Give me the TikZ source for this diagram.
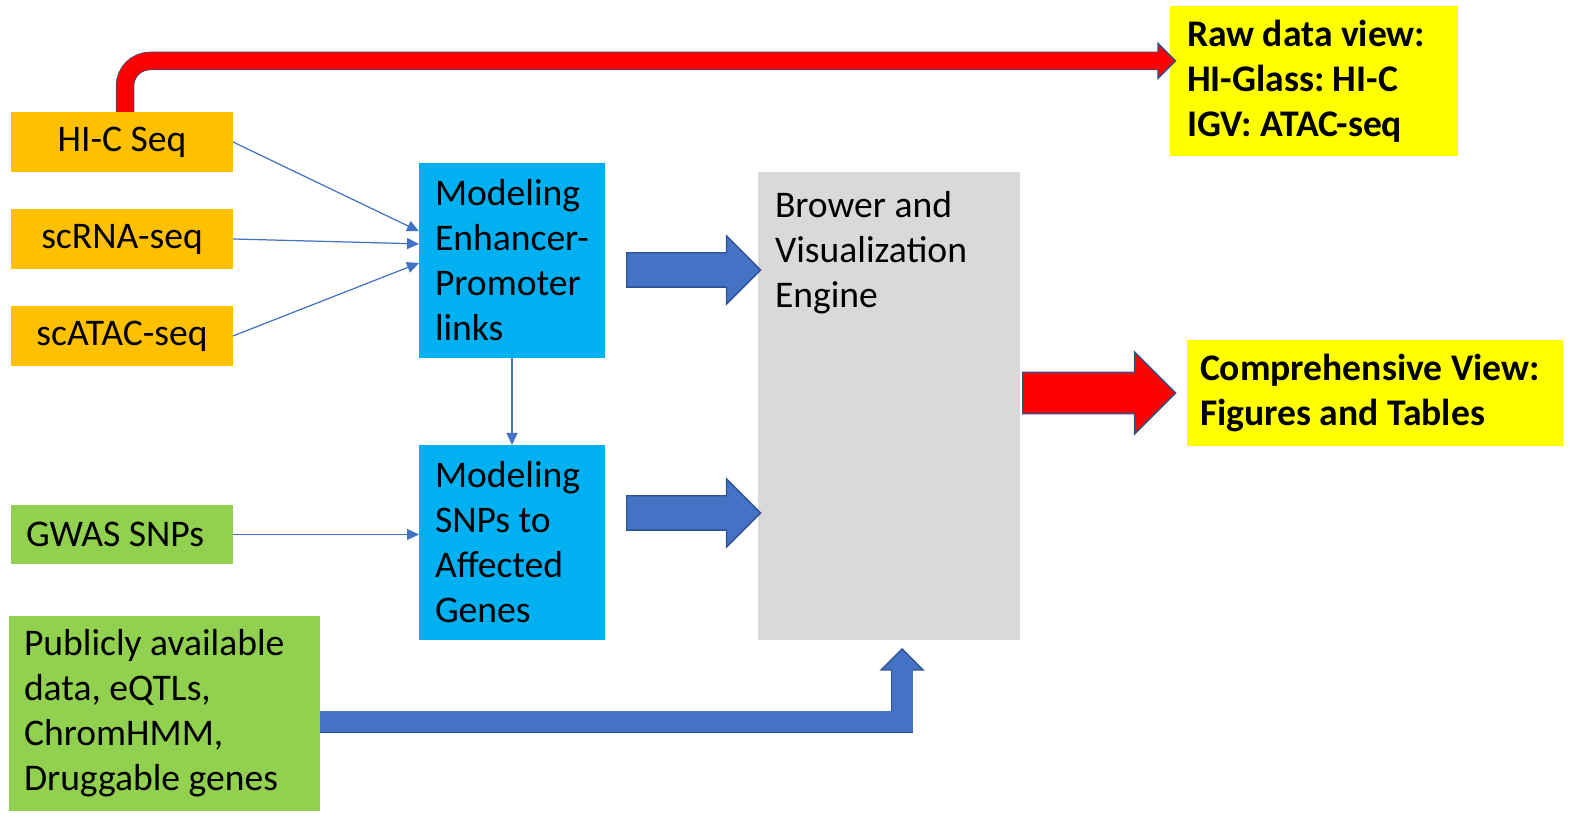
\documentclass[tikz,border=0pt]{standalone}
\usepackage{fontspec}
\setmainfont{Carlito}
\usepackage{xcolor}
\usepackage{tikz}
\usetikzlibrary{shapes.arrows, arrows.meta, positioning, calc}
\definecolor{seqorange}{HTML}{FFC000}
\definecolor{modelblue}{HTML}{00B0F0}
\definecolor{enginegray}{HTML}{D9D9D9}
\definecolor{inputgreen}{HTML}{92D050}
\definecolor{viewyellow}{HTML}{FFFF00}
\definecolor{viewred}{HTML}{FF0000}
\definecolor{flowblue}{HTML}{4472C4}
\definecolor{flowedge}{HTML}{2F528F}
\frenchspacing
\tikzstyle{box} = [rectangle, inner sep=0pt, outer sep=0pt, font=\fontsize{10.7pt}{12.8pt}\selectfont]
\tikzstyle{seqbox} = [box, fill=seqorange, minimum width=22.2mm, minimum height=6mm, align=center]
\tikzstyle{modelbox} = [box, fill=modelblue, align=flush left, inner xsep=1.6mm, text width=15.4mm, minimum height=19.5mm]
\tikzstyle{greenbox} = [box, fill=inputgreen, align=flush left, inner xsep=1.5mm]
\tikzstyle{viewbox} = [box, fill=viewyellow, align=flush left, font=\fontsize{10.7pt}{12.8pt}\selectfont\bfseries]
\tikzstyle{link} = [draw=flowblue, line width=0.35pt, -{Triangle[length=1.2mm,width=1.1mm]}]
\tikzstyle{blockarrow} = [single arrow, single arrow head extend=1.7mm, draw=flowedge, line width=0.4pt, fill=flowblue, inner xsep=0pt, inner ysep=1.65mm, minimum height=13.4mm, anchor=tail]

\begin{document}
\begin{tikzpicture}[x=0.1mm, y=-0.1mm]
\useasboundingbox (0,0) rectangle (1574,829);

% inputs
\node[seqbox] (hic) at (122,142) {HI-C Seq};
\node[seqbox, below=3.7mm of hic] (rna) {scRNA-seq};
\node[seqbox, below=3.7mm of rna] (atac) {scATAC-seq};
\node[greenbox, text width=19.2mm, minimum height=5.9mm] (gwas) at (122,534.5) {GWAS SNPs};
\node[greenbox, text width=28.1mm, minimum height=19.5mm] (pub) at (164.5,713.5) {Publicly available\\data, eQTLs,\\ChromHMM,\\Druggable genes};

% models
\node[modelbox] (ep) at (512,260.5) {Modeling\\Enhancer-\\Promoter\\links};
\node[modelbox, below=8.7mm of ep] (snp) {Modeling\\SNPs to\\Affected\\Genes};

% engine and views
\node[box, fill=enginegray, minimum width=26.2mm, minimum height=46.8mm] (engine) at (889,406) {};
\node[box, anchor=north west, align=left] (engtxt) at ($(engine.north west)+(17,19)$) {Brower and\\Visualization\\Engine};
\node[viewbox, inner xsep=1.7mm, text width=25.4mm, minimum height=15mm] (raw) at (1314,81) {Raw data view:\\HI-Glass: HI-C\\IGV: ATAC-seq};
\node[viewbox, inner xsep=1.3mm, text width=35mm, minimum height=10.6mm] (comp) at (1375,393) {Comprehensive View:\\Figures and Tables};

% thin links
\draw[link] (hic.east) -- ($(ep.north west)!0.35!(ep.south west)$);
\draw[link] (rna.east) -- ($(ep.north west)!0.415!(ep.south west)$);
\draw[link] (atac.east) -- ($(ep.north west)!0.513!(ep.south west)$);
\draw[link] (ep.south) -- (snp.north);
\draw[link] (gwas.east) -- (snp.west |- gwas.east);

% block arrows
\node[blockarrow] (epout) at (626,270) {};
\node[blockarrow] (snpout) at (626,513) {};
\node[blockarrow, fill=viewred, inner ysep=2mm, single arrow head extend=2.05mm, minimum height=15.3mm] (engout) at (1022,393) {};

% raw data arrow
\coordinate (rawin) at (1158,61);
\draw[line width=1.85mm, flowedge, rounded corners=2.5mm] ($(hic.north west)+(114,0)$) |- (rawin);
\draw[line width=1.7mm, viewred, rounded corners=2.5mm] ($(hic.north west)+(114,0)$) |- (rawin);
\filldraw[fill=viewred, draw=flowedge, line width=0.4pt] ($(rawin)+(0,-8.5)$) -- ++(0,-9) -- ++(17.5,17.5) -- ++(-17.5,17.5) -- ++(0,-9);

% public data arrow
\coordinate (engin) at (902,670);
\draw[line width=2.25mm, flowedge] ($(pub.east)+(0,8.5)$) -| (engin);
\draw[line width=2.1mm, flowblue] ($(pub.east)+(0,8.5)$) -| (engin);
\filldraw[fill=flowblue, draw=flowedge, line width=0.4pt] ($(engin)+(-10.5,0)$) -- ++(-10.5,0) -- ++(21,-21) -- ++(21,21) -- ++(-10.5,0);

\end{tikzpicture}
\end{document}
